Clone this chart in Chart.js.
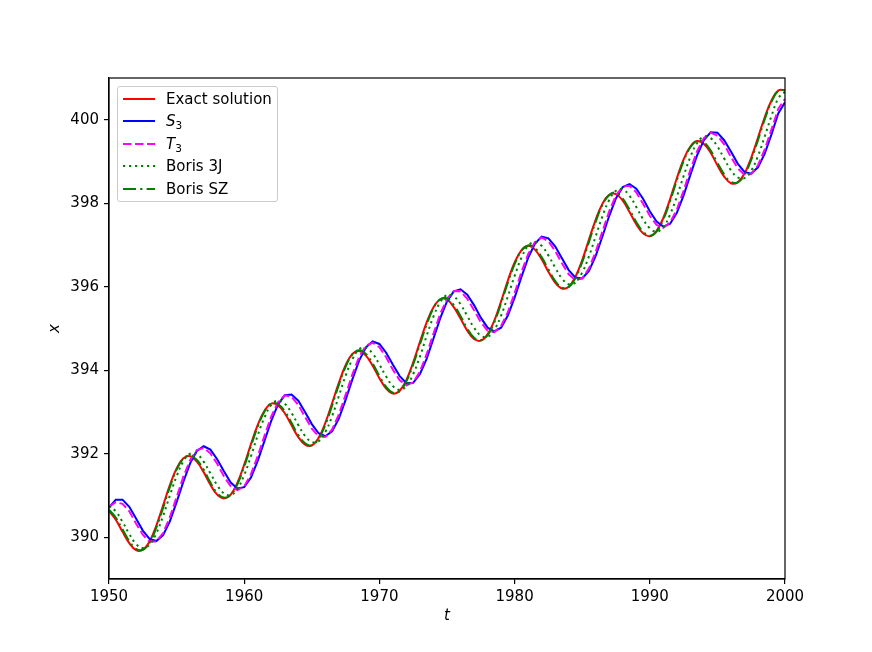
<!DOCTYPE html>
<html><head><meta charset="utf-8">
<script src="https://cdn.jsdelivr.net/npm/chart.js@4.4.1/dist/chart.umd.min.js"></script>
<style>
html,body{margin:0;padding:0;background:#fff;}
#wrap{position:relative;width:872px;height:652px;}
#legend{position:absolute;left:117px;top:86px;width:161px;height:116px;box-sizing:border-box;border:1px solid #cccccc;border-radius:3px;background:rgba(255,255,255,0.8);font-family:"DejaVu Sans",sans-serif;font-size:15px;color:#000;}
.row{position:absolute;left:0;height:22px;line-height:22px;width:100%;}
.row svg{position:absolute;left:5px;top:0;}
.row .lbl{position:absolute;left:48px;top:0;white-space:nowrap;}
.row sub{font-size:10.5px;vertical-align:-3px;line-height:0;font-style:normal;}
</style></head><body>
<div id="wrap"><canvas id="c" width="872" height="652"></canvas><div id="legend"></div></div>
<script>
const years = [1950,1950.5,1951,1951.5,1952,1952.5,1953,1953.5,1954,1954.5,
1955,1955.5,1956,1956.5,1957,1957.5,1958,1958.5,1959,1959.5,
1960,1960.5,1961,1961.5,1962,1962.5,1963,1963.5,1964,1964.5,
1965,1965.5,1966,1966.5,1967,1967.5,1968,1968.5,1969,1969.5,
1970,1970.5,1971,1971.5,1972,1972.5,1973,1973.5,1974,1974.5,
1975,1975.5,1976,1976.5,1977,1977.5,1978,1978.5,1979,1979.5,
1980,1980.5,1981,1981.5,1982,1982.5,1983,1983.5,1984,1984.5,
1985,1985.5,1986,1986.5,1987,1987.5,1988,1988.5,1989,1989.5,
1990,1990.5,1991,1991.5,1992,1992.5,1993,1993.5,1994,1994.5,
1995,1995.5,1996,1996.5,1997,1997.5,1998,1998.5,1999,1999.5,
2000];

const exactSolution = [390.63,390.42,390.13,389.86,389.69,389.70,389.90,390.28,390.76,391.25,
391.65,391.89,391.94,391.81,391.56,391.26,391.02,390.93,391.02,391.31,
391.74,392.23,392.69,393.03,393.20,393.16,392.97,392.68,392.40,392.22,
392.20,392.38,392.74,393.21,393.70,394.12,394.39,394.46,394.35,394.11,
393.81,393.56,393.44,393.51,393.77,394.19,394.68,395.15,395.51,395.70,
395.69,395.51,395.24,394.95,394.75,394.71,394.86,395.19,395.65,396.15,
396.58,396.87,396.98,396.89,396.66,396.36,396.10,395.96,396.00,396.24,
396.64,397.13,397.61,397.99,398.20,398.22,398.06,397.79,397.50,397.28,
397.21,397.34,397.65,398.10,398.60,399.05,399.36,399.49,399.42,399.21,
398.91,398.64,398.48,398.50,398.71,399.09,399.57,400.06,400.46,400.70,
400.71];

const s3 = [390.71,390.90,390.90,390.73,390.45,390.16,389.96,389.91,390.05,390.38,
390.84,391.33,391.77,392.07,392.18,392.10,391.87,391.58,391.31,391.17,
391.20,391.43,391.83,392.31,392.79,393.18,393.40,393.42,393.27,393.00,
392.71,392.49,392.42,392.54,392.84,393.29,393.78,394.23,394.55,394.69,
394.63,394.42,394.13,393.86,393.69,393.70,393.91,394.28,394.76,395.25,
395.65,395.89,395.94,395.81,395.56,395.26,395.02,394.93,395.02,395.31,
395.74,396.23,396.69,397.03,397.20,397.16,396.97,396.68,396.40,396.22,
396.20,396.38,396.74,397.21,397.70,398.12,398.39,398.46,398.35,398.11,
397.81,397.56,397.44,397.51,397.77,398.19,398.68,399.15,399.51,399.70,
399.69,399.51,399.24,398.95,398.75,398.71,398.86,399.19,399.65,400.15,
400.42];

const t3 = [390.73,390.84,390.80,390.62,390.33,390.06,389.89,389.90,390.10,390.48,
390.96,391.45,391.85,392.09,392.14,392.01,391.76,391.46,391.22,391.13,
391.22,391.51,391.94,392.43,392.89,393.23,393.40,393.36,393.17,392.88,
392.60,392.42,392.40,392.58,392.94,393.41,393.90,394.32,394.59,394.66,
394.55,394.31,394.01,393.76,393.64,393.71,393.97,394.39,394.88,395.35,
395.71,395.90,395.89,395.71,395.44,395.15,394.95,394.91,395.06,395.39,
395.85,396.35,396.78,397.07,397.18,397.09,396.86,396.56,396.30,396.16,
396.20,396.44,396.84,397.33,397.81,398.19,398.40,398.42,398.26,397.99,
397.70,397.48,397.41,397.54,397.85,398.30,398.80,399.25,399.56,399.69,
399.62,399.41,399.11,398.84,398.68,398.70,398.91,399.29,399.77,400.26,
400.50];

const boris3J = [390.75,390.62,390.37,390.08,389.84,389.74,389.82,390.09,390.51,391.00,
391.46,391.82,392.00,391.99,391.81,391.53,391.25,391.05,391.01,391.16,
391.49,391.94,392.44,392.87,393.17,393.28,393.20,392.98,392.69,392.43,
392.28,392.30,392.52,392.90,393.38,393.87,394.26,394.50,394.54,394.40,
394.14,393.85,393.62,393.53,393.62,393.91,394.33,394.83,395.29,395.63,
395.80,395.77,395.58,395.30,395.02,394.83,394.80,394.97,395.31,395.77,
396.26,396.69,396.98,397.07,396.98,396.75,396.46,396.20,396.06,396.10,
396.34,396.73,397.21,397.69,398.08,398.30,398.33,398.18,397.91,397.62,
397.40,397.32,397.43,397.73,398.16,398.65,399.11,399.44,399.60,399.56,
399.36,399.07,398.79,398.62,398.60,398.78,399.13,399.60,400.09,400.51,
400.67];

const borisSZ = [390.66,390.47,390.19,389.91,389.72,389.70,389.87,390.23,390.70,391.20,
391.62,391.88,391.96,391.85,391.62,391.31,391.06,390.95,391.01,391.27,
391.69,392.18,392.65,393.01,393.21,393.19,393.02,392.74,392.45,392.25,
392.20,392.36,392.69,393.15,393.65,394.08,394.38,394.48,394.39,394.16,
393.86,393.60,393.46,393.50,393.74,394.14,394.62,395.10,395.49,395.70,
395.72,395.56,395.30,395.00,394.78,394.72,394.84,395.15,395.60,396.10,
396.54,396.86,396.99,396.93,396.71,396.42,396.14,395.98,395.99,396.21,
396.59,397.07,397.56,397.96,398.20,398.25,398.11,397.85,397.55,397.32,
397.22,397.32,397.61,398.05,398.55,399.01,399.34,399.50,399.46,399.26,
398.97,398.69,398.51,398.50,398.68,399.04,399.51,400.01,400.43,400.69,
400.71];

const xTicks = [1950,1960,1970,1980,1990,2000];
const yTicks = [390,392,394,396,398,400];

const seriesNames = ['Exact solution','S3','T3','Boris 3J','Boris SZ'];
const seriesLabelsHtml = ['Exact solution','<i>S</i><sub>3</sub>','<i>T</i><sub>3</sub>','Boris 3J','Boris SZ'];
const seriesData = [exactSolution, s3, t3, boris3J, borisSZ];
const seriesColors = ['#ff0000','#0000ff','#ff00ff','#008000','#008000'];
const seriesDash = [[],[],[8.4,3.6],[2.2,3.8],[13,4.2,2.2,4.2]];
const seriesTension = [0.4,0,0,0.4,0.4];
const LW = 2.0;

const datasets = seriesData.map((arr,i)=>({
  label: seriesNames[i],
  data: years.map((x,j)=>({x:x,y:arr[j]})),
  borderColor: seriesColors[i],
  backgroundColor: seriesColors[i],
  borderWidth: LW,
  borderDash: seriesDash[i],
  borderCapStyle: 'butt',
  pointRadius: 0,
  fill: false,
  tension: seriesTension[i],
  order: 5 - i
}));

const frame = {id:'frame', afterDraw(chart){
  const {ctx, chartArea:a} = chart;
  ctx.save(); ctx.strokeStyle='#000'; ctx.lineWidth=1.2;
  ctx.strokeRect(a.left, a.top, a.right-a.left, a.bottom-a.top);
  ctx.restore();
}};

const tickFont = {family:'"DejaVu Sans", sans-serif', size:15};
new Chart(document.getElementById('c'), {
  type:'line',
  data:{datasets},
  options:{
    responsive:false, animation:false,
    layout:{padding:{left:0,right:87,top:78,bottom:0}},
    plugins:{legend:{display:false}, tooltip:{enabled:false}},
    scales:{
      x:{type:'linear', min:1950, max:2000,
        afterBuildTicks:(s)=>{s.ticks = xTicks.map(v=>({value:v}));},
        afterFit:(s)=>{s.height = 73;},
        grid:{drawOnChartArea:false, drawTicks:true, tickLength:5, color:'#000', lineWidth:1.2},
        border:{display:true, color:'#000', width:1.2},
        ticks:{font:tickFont, color:'#000', padding:4, maxRotation:0, autoSkip:false, callback:(v)=>String(v)},
        title:{display:true, text:'t', color:'#000', font:{family:'"DejaVu Sans", sans-serif', size:15, style:'italic'}, padding:{top:0,bottom:27}}
      },
      y:{type:'linear', min:389, max:401,
        afterBuildTicks:(s)=>{s.ticks = yTicks.map(v=>({value:v}));},
        afterFit:(s)=>{s.width = 109;},
        grid:{drawOnChartArea:false, drawTicks:true, tickLength:5, color:'#000', lineWidth:1.2},
        border:{display:true, color:'#000', width:1.2},
        ticks:{font:tickFont, color:'#000', padding:5, autoSkip:false, callback:(v)=>String(v)},
        title:{display:true, text:'x', color:'#000', font:{family:'"DejaVu Sans", sans-serif', size:15, style:'italic'}, padding:{top:46,bottom:0}}
      }
    }
  },
  plugins:[frame]
});

const leg = document.getElementById('legend');
let html = '';
seriesNames.forEach((n,i)=>{
  const top = 1 + 22.4*i;
  const dash = seriesDash[i].length ? ' stroke-dasharray="'+seriesDash[i].join(' ')+'"' : '';
  html += '<div class="row" style="top:'+top+'px"><svg width="32" height="22"><line x1="0" y1="11" x2="32" y2="11" stroke="'+seriesColors[i]+'" stroke-width="'+LW+'"'+dash+'/></svg><span class="lbl">'+seriesLabelsHtml[i]+'</span></div>';
});
leg.innerHTML = html;
</script>
</body></html>
